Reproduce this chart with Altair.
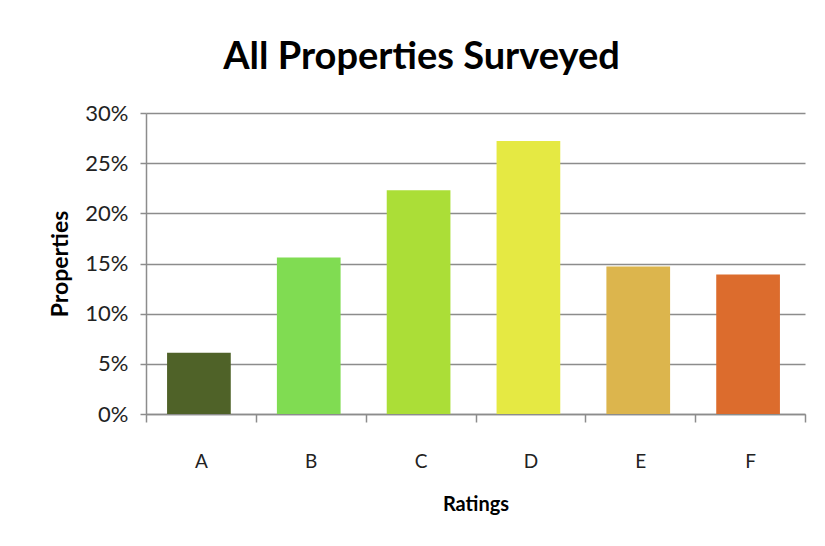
import altair as alt
import pandas as pd

ratings = ["A", "B", "C", "D", "E", "F"]
shares = [0.061, 0.156, 0.223, 0.272, 0.147, 0.139]
colors = ["#4f6228", "#80dc52", "#abde37", "#e5e943", "#dcb54d", "#dc6c2d"]
y_ticks = [0, 0.05, 0.10, 0.15, 0.20, 0.25, 0.30]

df = pd.DataFrame({"Rating": ratings, "Share": shares})

FONT = "Lato"

chart = alt.Chart(df).mark_bar(width=alt.RelativeBandSize(0.58), xOffset=-2).encode(
    x=alt.X("Rating:N", sort=ratings,
            scale=alt.Scale(paddingInner=0, paddingOuter=0),
            axis=alt.Axis(title="Ratings", labelAngle=0, tickBand="extent",
                          labelFontSize=19, labelColor="#222", labelFont=FONT,
                          labelPadding=30, tickSize=8, tickColor="#8c8c8c",
                          domainColor="#8c8c8c", domainWidth=1.5, tickWidth=1.5,
                          titleFontSize=20, titleFont=FONT, titleFontWeight="bold",
                          titleColor="#000", titlePadding=23, grid=False)),
    y=alt.Y("Share:Q",
            scale=alt.Scale(domain=[0, 0.3], nice=False),
            axis=alt.Axis(title="Properties", format=".0%", values=y_ticks,
                          labelFontSize=22, labelColor="#222", labelFont=FONT,
                          labelPadding=12, tickSize=6, tickColor="#8c8c8c", tickWidth=1.5,
                          domainColor="#8c8c8c", domainWidth=1.5,
                          gridColor="#8c8c8c", gridWidth=1.5,
                          titleFontSize=23, titleFont=FONT, titleFontWeight="bold",
                          titleColor="#000", titlePadding=12)),
    color=alt.Color("Rating:N", scale=alt.Scale(domain=ratings, range=colors), legend=None),
).properties(
    width=659,
    height=301,
    title=alt.TitleParams("All Properties Surveyed", fontSize=38, font=FONT,
                          fontWeight="bold", color="#000", anchor="middle", dx=-54, offset=25),
    autosize=alt.AutoSizeParams(type="none"),
    padding={"left": 138, "top": 105, "right": 12, "bottom": 124},
).configure(background="white").configure_view(stroke=None)

chart.save("out.html", embed_options={"renderer": "svg", "actions": False})
